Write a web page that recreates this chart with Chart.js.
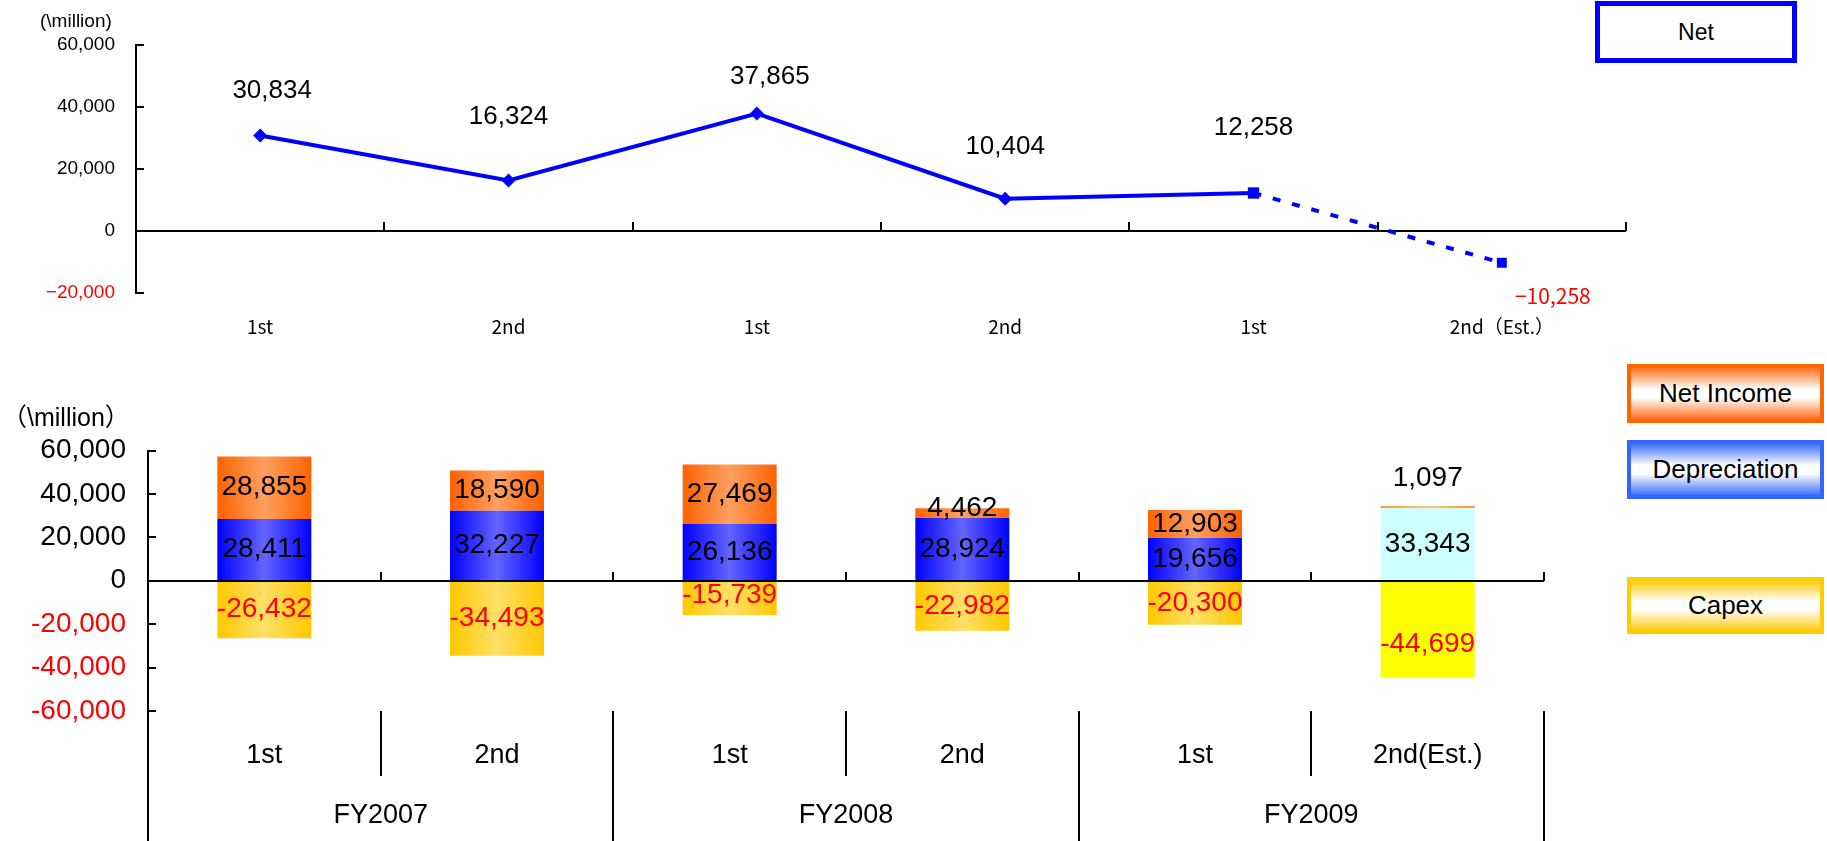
<!DOCTYPE html>
<html>
<head>
<meta charset="utf-8">
<script src="https://cdn.jsdelivr.net/npm/chart.js@4.4.1/dist/chart.umd.min.js"></script>
<style>
  html, body { margin: 0; padding: 0; background: #fff; }
  #page { position: relative; width: 1827px; height: 841px; overflow: hidden; font-family: "Liberation Sans", Arial, sans-serif; }
  canvas { position: absolute; left: 0; }
  #netChart { top: 0; }
  #flowChart { top: 345px; }
  .unit { position: absolute; color: #000; white-space: nowrap; line-height: 1; }
  .key { position: absolute; box-sizing: border-box; display: flex; align-items: center; justify-content: center; color: #000; white-space: nowrap; }
</style>
</head>
<body>
<div id="page">
  <canvas id="netChart" width="1827" height="345"></canvas>
  <canvas id="flowChart" width="1827" height="496"></canvas>

  <div class="unit" style="left:40px; top:11px; font-size:19px;">(\million)</div>
  <div class="unit" style="left:2px; top:405px; font-size:25px; font-family:'Liberation Sans','Noto Sans CJK JP',sans-serif;">（\million）</div>

  <div class="key" style="left:1595px; top:1px; width:202px; height:62px; border:5px solid #0000FF; background:#fff; font-size:23px;">Net</div>
  <div class="key" style="left:1627px; top:364px; width:197px; height:59px; border:4px solid #FF6600; background:linear-gradient(#FF7020, #fff 42%, #fff 58%, #FF7020); font-size:26px;">Net Income</div>
  <div class="key" style="left:1627px; top:440px; width:197px; height:59px; border:4px solid #3366FF; background:linear-gradient(#4070FF, #fff 42%, #fff 58%, #4070FF); font-size:26px;">Depreciation</div>
  <div class="key" style="left:1627px; top:577px; width:197px; height:57px; border:4px solid #FFCC00; background:linear-gradient(#FFCC10, #fff 42%, #fff 58%, #FFCC10); font-size:26px;">Capex</div>
</div>

<script>
// ---- data ----
const netHalves = ['1st', '2nd', '1st', '2nd', '1st', '2nd（Est.）'];
const netCash = [30834, 16324, 37865, 10404, 12258, -10258];
const netTickValues = [-20000, 0, 20000, 40000, 60000];

const halves = ['1st', '2nd', '1st', '2nd', '1st', '2nd(Est.)'];
const fiscalYears = ['FY2007', 'FY2008', 'FY2009'];
const depreciation = [28411, 32227, 26136, 28924, 19656, 33343];
const netIncome = [28855, 18590, 27469, 4462, 12903, 1097];
const capex = [-26432, -34493, -15739, -22982, -20300, -44699];
const flowTickValues = [-60000, -40000, -20000, 0, 20000, 40000, 60000];

// ---- layout / style ----
const SANS = "'Liberation Sans', Arial, sans-serif";
const GOTHIC = "'Noto Sans CJK JP', 'Liberation Sans', sans-serif";
const BAR_PCT = 0.404;
// label offsets for the net line (dx, dy from each point)
const netLabelShift = [[12, -45], [0, -64], [13, -37], [0, -52], [0, -65], [51, 33]];
// vertical label nudges inside the stacked bars
const flowLabelDy = [
  [0, 0, 0, 0, 0, 0],
  [0, 0, 0, -5, 0, -29],
  [0, 0, -3, 0, 0, 15]
];

const fmt = v => Math.abs(v).toLocaleString('en-US');

// ===== Net (top) =====
const netMarks = {
  id: 'netMarks',
  beforeDatasetsDraw(chart) {
    const { ctx, scales: { x, y } } = chart;
    const y0 = Math.round(y.getPixelForValue(0));
    const step = x.getPixelForValue(1) - x.getPixelForValue(0);
    const start = x.getPixelForValue(0) - step / 2;
    ctx.save();
    ctx.strokeStyle = '#000';
    ctx.lineWidth = 2;
    ctx.beginPath();
    ctx.moveTo(x.left, y0); ctx.lineTo(x.right, y0);
    for (let i = 0; i <= netHalves.length; i++) {
      const bx = Math.round(start + i * step);
      ctx.moveTo(bx, y0); ctx.lineTo(bx, y0 - 9);
    }
    y.ticks.forEach(t => {
      const py = Math.round(y.getPixelForValue(t.value));
      ctx.moveTo(y.right, py); ctx.lineTo(y.right + 8, py);
    });
    ctx.stroke();
    ctx.restore();
  },
  afterDatasetsDraw(chart) {
    const { ctx } = chart;
    const meta = chart.getDatasetMeta(0);
    ctx.save();
    ctx.textAlign = 'center';
    ctx.textBaseline = 'middle';
    meta.data.forEach((pt, i) => {
      const v = netCash[i];
      const [dx, dy] = netLabelShift[i];
      if (v < 0) {
        ctx.fillStyle = '#FF0000';
        ctx.font = '21px ' + GOTHIC;
        ctx.fillText('−' + fmt(v), pt.x + dx, pt.y + dy);
      } else {
        ctx.fillStyle = '#000';
        ctx.font = '26px ' + SANS;
        ctx.fillText(fmt(v), pt.x + dx, pt.y + dy);
      }
    });
    ctx.restore();
  }
};

new Chart(document.getElementById('netChart'), {
  type: 'line',
  data: {
    labels: netHalves,
    datasets: [{
      label: 'Net',
      data: netCash,
      borderColor: '#0000FF',
      backgroundColor: '#0000FF',
      borderWidth: 4,
      tension: 0,
      clip: false,
      pointStyle: ['rectRot', 'rectRot', 'rectRot', 'rectRot', 'rect', 'rect'],
      pointRadius: [7, 7, 7, 7, 8, 7],
      pointBorderWidth: 0,
      pointBackgroundColor: '#0000FF',
      segment: { borderDash: c => (c.p1DataIndex === netHalves.length - 1 ? [8, 12] : undefined) }
    }]
  },
  options: {
    responsive: false,
    animation: false,
    devicePixelRatio: 1,
    layout: { padding: { top: 45, right: 201, left: 0, bottom: 0 } },
    plugins: { legend: { display: false }, tooltip: { enabled: false } },
    scales: {
      x: {
        offset: true,
        grid: { display: false },
        border: { display: false },
        ticks: { padding: 14, color: '#000', autoSkip: false, maxRotation: 0, font: { family: GOTHIC, size: 19 } },
        afterFit(s) { s.height = 52; }
      },
      y: {
        min: netTickValues[0],
        max: netTickValues[netTickValues.length - 1],
        afterBuildTicks(s) { s.ticks = netTickValues.map(v => ({ value: v })); },
        grid: { drawOnChartArea: false, drawTicks: false },
        border: { display: true, color: '#000', width: 2 },
        ticks: {
          padding: 21,
          font: { family: SANS, size: 19 },
          color: c => (c.tick && c.tick.value < 0 ? '#FF0000' : '#000'),
          callback: v => (v < 0 ? '−' : '') + fmt(v)
        },
        afterFit(s) { s.width = 136; }
      }
    }
  },
  plugins: [netMarks]
});

// ===== Net income / Depreciation / Capex (bottom) =====
function barFill(edge, mid, lastColor) {
  return c => {
    const chart = c.chart;
    const xs = chart.scales && chart.scales.x;
    const last = c.dataIndex === halves.length - 1;
    if (last && lastColor) return lastColor;
    const e = last ? '#FF9A30' : edge;
    const m = last ? '#FFC474' : mid;
    if (!xs || !chart.chartArea || c.dataIndex === undefined) return e;
    const cx = xs.getPixelForValue(c.dataIndex);
    const half = xs.width / halves.length * BAR_PCT / 2;
    const g = chart.ctx.createLinearGradient(cx - half, 0, cx + half, 0);
    g.addColorStop(0, e);
    g.addColorStop(0.5, m);
    g.addColorStop(1, e);
    return g;
  };
}

const flowMarks = {
  id: 'flowMarks',
  afterDatasetsDraw(chart) {
    const { ctx, scales: { x, y } } = chart;
    const y0 = Math.round(y.getPixelForValue(0));
    const step = x.getPixelForValue(1) - x.getPixelForValue(0);
    const start = x.getPixelForValue(0) - step / 2;
    const bottom = Math.round(chart.chartArea.bottom);
    ctx.save();
    ctx.strokeStyle = '#000';
    ctx.lineWidth = 2;
    ctx.beginPath();
    ctx.moveTo(x.left, y0); ctx.lineTo(x.right, y0);
    for (let i = 0; i <= halves.length; i++) {
      const bx = Math.round(start + i * step);
      if (i > 0) { ctx.moveTo(bx, y0); ctx.lineTo(bx, y0 - 9); }
      if (i % 2 === 0) {
        ctx.moveTo(bx, bottom); ctx.lineTo(bx, chart.height);
      } else {
        ctx.moveTo(bx, bottom); ctx.lineTo(bx, bottom + 65);
      }
    }
    y.ticks.forEach(t => {
      const py = Math.round(y.getPixelForValue(t.value));
      ctx.moveTo(y.right, py); ctx.lineTo(y.right + 8, py);
    });
    ctx.stroke();

    // values inside the stacks
    ctx.textAlign = 'center';
    ctx.textBaseline = 'middle';
    ctx.font = '28px ' + SANS;
    chart.data.datasets.forEach((ds, di) => {
      chart.getDatasetMeta(di).data.forEach((el, i) => {
        const v = ds.data[i];
        ctx.fillStyle = v < 0 ? '#FF0000' : '#000';
        ctx.fillText((v < 0 ? '-' : '') + fmt(v), el.x, (el.y + el.base) / 2 + flowLabelDy[di][i]);
      });
    });
    ctx.restore();
  }
};

new Chart(document.getElementById('flowChart'), {
  type: 'bar',
  data: {
    labels: halves,
    datasets: [
      { label: 'Depreciation', data: depreciation, stack: 'cf', backgroundColor: barFill('#0000FF', '#6464FF', '#CCFFFF') },
      { label: 'Net Income', data: netIncome, stack: 'cf', backgroundColor: barFill('#FF6200', '#FFA060', null) },
      { label: 'Capex', data: capex, stack: 'cf', backgroundColor: barFill('#FFC800', '#FFE066', '#FFFF00') }
    ]
  },
  options: {
    responsive: false,
    animation: false,
    devicePixelRatio: 1,
    barPercentage: BAR_PCT,
    categoryPercentage: 1,
    layout: { padding: { top: 105.5, right: 283, left: 0, bottom: 0 } },
    plugins: { legend: { display: false }, tooltip: { enabled: false } },
    scales: {
      x: {
        stacked: true,
        offset: true,
        weight: 0,
        grid: { display: false },
        border: { display: false },
        ticks: { padding: 20, color: '#000', autoSkip: false, maxRotation: 0, font: { family: SANS, size: 27 } },
        afterFit(s) { s.height = 65; }
      },
      x2: {
        type: 'category',
        labels: fiscalYears,
        position: 'bottom',
        offset: true,
        weight: 1,
        grid: { display: false },
        border: { display: false },
        ticks: { padding: 15, color: '#000', autoSkip: false, maxRotation: 0, font: { family: SANS, size: 27 } },
        afterFit(s) { s.height = 65; }
      },
      y: {
        stacked: true,
        min: flowTickValues[0],
        max: flowTickValues[flowTickValues.length - 1],
        afterBuildTicks(s) { s.ticks = flowTickValues.map(v => ({ value: v })); },
        grid: { drawOnChartArea: false, drawTicks: false },
        border: { display: true, color: '#000', width: 2 },
        ticks: {
          padding: 22,
          font: { family: SANS, size: 28 },
          color: c => (c.tick && c.tick.value < 0 ? '#FF0000' : '#000'),
          callback: v => (v < 0 ? '-' : '') + fmt(v)
        },
        afterFit(s) { s.width = 148; }
      }
    }
  },
  plugins: [flowMarks]
});
</script>
</body>
</html>
